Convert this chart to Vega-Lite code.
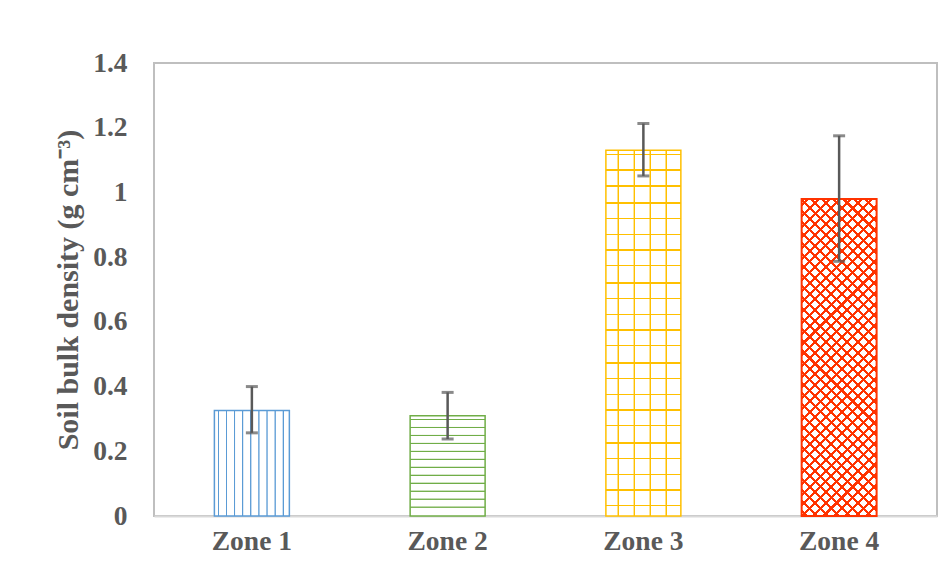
{
"$schema": "https://vega.github.io/schema/vega-lite/v6.json",
"width": 783,
"height": 453,
"autosize": {"type": "none"},
"padding": {"left": 154, "top": 63, "right": 14, "bottom": 63},
"background": "white",
"config": {"view": {"stroke": "#BFBFBF", "strokeWidth": 2}, "font": "Liberation Serif"},
"data": {"values": [
{"zone": "Zone 1", "mean": 0.326, "low": 0.257, "high": 0.400},
{"zone": "Zone 2", "mean": 0.310, "low": 0.238, "high": 0.382},
{"zone": "Zone 3", "mean": 1.130, "low": 1.051, "high": 1.213},
{"zone": "Zone 4", "mean": 0.980, "low": 0.787, "high": 1.175}
]},
"encoding": {
"x": {"field": "zone", "type": "nominal", "title": null,
 "scale": {"domain": ["Zone 1", "Zone 2", "Zone 3", "Zone 4"], "paddingInner": 0.617, "paddingOuter": 0.3085},
 "axis": {"ticks": false, "domain": true, "domainColor": "#D9D9D9", "domainWidth": 2, "labelAngle": 0, "labelPadding": 11,
  "labelFont": "Liberation Serif", "labelFontWeight": "bold", "labelFontSize": 27.5, "labelColor": "#595959", "grid": false}},
"y": {"field": "mean", "type": "quantitative", "title": "Soil bulk density (g cm⁻³)",
 "scale": {"domain": [0, 1.4], "nice": false},
 "axis": {"values": [0, 0.2, 0.4, 0.6, 0.8, 1, 1.2, 1.4], "format": "~g", "grid": false, "ticks": false, "domain": false,
  "labelFont": "Liberation Serif", "labelFontWeight": "bold", "labelFontSize": 27.5, "labelColor": "#595959", "labelPadding": 27,
  "titleFont": "Liberation Serif", "titleFontWeight": "bold", "titleFontSize": 30, "titleColor": "#595959", "titlePadding": 9}}
},
"layer": [
{"transform": [{"filter": "datum.zone === 'Zone 1'"}],
 "mark": {"type": "bar", "stroke": "#5B9BD5", "strokeWidth": 1.5, "fill": {"gradient": "linear", "x1": 0, "y1": 0, "x2": 1, "y2": 0, "stops": [
 {"offset": 0, "color": "#fff"},
 {"offset": 0.042, "color": "#fff"}, {"offset": 0.050, "color": "#5B9BD5"}, {"offset": 0.058, "color": "#5B9BD5"}, {"offset": 0.066, "color": "#fff"},
 {"offset": 0.150, "color": "#fff"}, {"offset": 0.158, "color": "#5B9BD5"}, {"offset": 0.166, "color": "#5B9BD5"}, {"offset": 0.174, "color": "#fff"},
 {"offset": 0.258, "color": "#fff"}, {"offset": 0.266, "color": "#5B9BD5"}, {"offset": 0.274, "color": "#5B9BD5"}, {"offset": 0.282, "color": "#fff"},
 {"offset": 0.366, "color": "#fff"}, {"offset": 0.374, "color": "#5B9BD5"}, {"offset": 0.382, "color": "#5B9BD5"}, {"offset": 0.390, "color": "#fff"},
 {"offset": 0.474, "color": "#fff"}, {"offset": 0.482, "color": "#5B9BD5"}, {"offset": 0.490, "color": "#5B9BD5"}, {"offset": 0.498, "color": "#fff"},
 {"offset": 0.582, "color": "#fff"}, {"offset": 0.590, "color": "#5B9BD5"}, {"offset": 0.598, "color": "#5B9BD5"}, {"offset": 0.606, "color": "#fff"},
 {"offset": 0.690, "color": "#fff"}, {"offset": 0.698, "color": "#5B9BD5"}, {"offset": 0.706, "color": "#5B9BD5"}, {"offset": 0.714, "color": "#fff"},
 {"offset": 0.798, "color": "#fff"}, {"offset": 0.806, "color": "#5B9BD5"}, {"offset": 0.814, "color": "#5B9BD5"}, {"offset": 0.822, "color": "#fff"},
 {"offset": 0.906, "color": "#fff"}, {"offset": 0.914, "color": "#5B9BD5"}, {"offset": 0.922, "color": "#5B9BD5"}, {"offset": 0.930, "color": "#fff"},
 {"offset": 1, "color": "#fff"}]}}},
{"transform": [{"filter": "datum.zone === 'Zone 2'"}],
 "mark": {"type": "bar", "stroke": "#70AD47", "strokeWidth": 1.5, "fill": {"gradient": "linear", "x1": 0, "y1": 0, "x2": 0, "y2": 1, "stops": [
 {"offset": 0, "color": "#fff"},
 {"offset": 0.028, "color": "#fff"}, {"offset": 0.034, "color": "#70AD47"}, {"offset": 0.040, "color": "#70AD47"}, {"offset": 0.046, "color": "#fff"},
 {"offset": 0.1075, "color": "#fff"}, {"offset": 0.1135, "color": "#70AD47"}, {"offset": 0.1195, "color": "#70AD47"}, {"offset": 0.1255, "color": "#fff"},
 {"offset": 0.187, "color": "#fff"}, {"offset": 0.193, "color": "#70AD47"}, {"offset": 0.199, "color": "#70AD47"}, {"offset": 0.205, "color": "#fff"},
 {"offset": 0.2665, "color": "#fff"}, {"offset": 0.2725, "color": "#70AD47"}, {"offset": 0.2785, "color": "#70AD47"}, {"offset": 0.2845, "color": "#fff"},
 {"offset": 0.346, "color": "#fff"}, {"offset": 0.352, "color": "#70AD47"}, {"offset": 0.358, "color": "#70AD47"}, {"offset": 0.364, "color": "#fff"},
 {"offset": 0.4255, "color": "#fff"}, {"offset": 0.4315, "color": "#70AD47"}, {"offset": 0.4375, "color": "#70AD47"}, {"offset": 0.4435, "color": "#fff"},
 {"offset": 0.505, "color": "#fff"}, {"offset": 0.511, "color": "#70AD47"}, {"offset": 0.517, "color": "#70AD47"}, {"offset": 0.523, "color": "#fff"},
 {"offset": 0.5845, "color": "#fff"}, {"offset": 0.5905, "color": "#70AD47"}, {"offset": 0.5965, "color": "#70AD47"}, {"offset": 0.6025, "color": "#fff"},
 {"offset": 0.664, "color": "#fff"}, {"offset": 0.670, "color": "#70AD47"}, {"offset": 0.676, "color": "#70AD47"}, {"offset": 0.682, "color": "#fff"},
 {"offset": 0.7435, "color": "#fff"}, {"offset": 0.7495, "color": "#70AD47"}, {"offset": 0.7555, "color": "#70AD47"}, {"offset": 0.7615, "color": "#fff"},
 {"offset": 0.823, "color": "#fff"}, {"offset": 0.829, "color": "#70AD47"}, {"offset": 0.835, "color": "#70AD47"}, {"offset": 0.841, "color": "#fff"},
 {"offset": 0.9025, "color": "#fff"}, {"offset": 0.9085, "color": "#70AD47"}, {"offset": 0.9145, "color": "#70AD47"}, {"offset": 0.9205, "color": "#fff"},
 {"offset": 1, "color": "#fff"}]}}},
{"transform": [{"filter": "datum.zone === 'Zone 3'"}],
 "mark": {"type": "bar", "strokeWidth": 0, "fill": {"gradient": "linear", "x1": 0, "y1": 0, "x2": 1, "y2": 0, "stops": [
 {"offset": 0, "color": "#fff"},
 {"offset": 0.151, "color": "#fff"}, {"offset": 0.159, "color": "#FFC000"}, {"offset": 0.169, "color": "#FFC000"}, {"offset": 0.177, "color": "#fff"},
 {"offset": 0.365, "color": "#fff"}, {"offset": 0.373, "color": "#FFC000"}, {"offset": 0.383, "color": "#FFC000"}, {"offset": 0.391, "color": "#fff"},
 {"offset": 0.578, "color": "#fff"}, {"offset": 0.586, "color": "#FFC000"}, {"offset": 0.596, "color": "#FFC000"}, {"offset": 0.604, "color": "#fff"},
 {"offset": 0.791, "color": "#fff"}, {"offset": 0.799, "color": "#FFC000"}, {"offset": 0.809, "color": "#FFC000"}, {"offset": 0.817, "color": "#fff"},
 {"offset": 1, "color": "#fff"}]}}},
{"transform": [{"filter": "datum.zone === 'Zone 3'"}],
 "mark": {"type": "bar", "stroke": "#FFC000", "strokeWidth": 1.5, "fill": {"gradient": "linear", "x1": 0, "y1": 0, "x2": 0, "y2": 1, "stops": [
 {"offset": 0, "color": "rgba(255,192,0,0)"},
 {"offset": 0.00898, "color": "rgba(255,192,0,0)"}, {"offset": 0.00898, "color": "#FFC000"}, {"offset": 0.01289, "color": "#FFC000"}, {"offset": 0.01289, "color": "rgba(255,192,0,0)"},
 {"offset": 0.05195, "color": "rgba(255,192,0,0)"}, {"offset": 0.05195, "color": "#FFC000"}, {"offset": 0.05586, "color": "#FFC000"}, {"offset": 0.05586, "color": "rgba(255,192,0,0)"},
 {"offset": 0.09492, "color": "rgba(255,192,0,0)"}, {"offset": 0.09492, "color": "#FFC000"}, {"offset": 0.09883, "color": "#FFC000"}, {"offset": 0.09883, "color": "rgba(255,192,0,0)"},
 {"offset": 0.14180, "color": "rgba(255,192,0,0)"}, {"offset": 0.14180, "color": "#FFC000"}, {"offset": 0.14570, "color": "#FFC000"}, {"offset": 0.14570, "color": "rgba(255,192,0,0)"},
 {"offset": 0.18477, "color": "rgba(255,192,0,0)"}, {"offset": 0.18477, "color": "#FFC000"}, {"offset": 0.18867, "color": "#FFC000"}, {"offset": 0.18867, "color": "rgba(255,192,0,0)"},
 {"offset": 0.22773, "color": "rgba(255,192,0,0)"}, {"offset": 0.22773, "color": "#FFC000"}, {"offset": 0.23164, "color": "#FFC000"}, {"offset": 0.23164, "color": "rgba(255,192,0,0)"},
 {"offset": 0.27070, "color": "rgba(255,192,0,0)"}, {"offset": 0.27070, "color": "#FFC000"}, {"offset": 0.27461, "color": "#FFC000"}, {"offset": 0.27461, "color": "rgba(255,192,0,0)"},
 {"offset": 0.31367, "color": "rgba(255,192,0,0)"}, {"offset": 0.31367, "color": "#FFC000"}, {"offset": 0.31758, "color": "#FFC000"}, {"offset": 0.31758, "color": "rgba(255,192,0,0)"},
 {"offset": 0.36055, "color": "rgba(255,192,0,0)"}, {"offset": 0.36055, "color": "#FFC000"}, {"offset": 0.36445, "color": "#FFC000"}, {"offset": 0.36445, "color": "rgba(255,192,0,0)"},
 {"offset": 0.40352, "color": "rgba(255,192,0,0)"}, {"offset": 0.40352, "color": "#FFC000"}, {"offset": 0.40742, "color": "#FFC000"}, {"offset": 0.40742, "color": "rgba(255,192,0,0)"},
 {"offset": 0.44648, "color": "rgba(255,192,0,0)"}, {"offset": 0.44648, "color": "#FFC000"}, {"offset": 0.45039, "color": "#FFC000"}, {"offset": 0.45039, "color": "rgba(255,192,0,0)"},
 {"offset": 0.48945, "color": "rgba(255,192,0,0)"}, {"offset": 0.48945, "color": "#FFC000"}, {"offset": 0.49336, "color": "#FFC000"}, {"offset": 0.49336, "color": "rgba(255,192,0,0)"},
 {"offset": 0.53242, "color": "rgba(255,192,0,0)"}, {"offset": 0.53242, "color": "#FFC000"}, {"offset": 0.53633, "color": "#FFC000"}, {"offset": 0.53633, "color": "rgba(255,192,0,0)"},
 {"offset": 0.57930, "color": "rgba(255,192,0,0)"}, {"offset": 0.57930, "color": "#FFC000"}, {"offset": 0.58320, "color": "#FFC000"}, {"offset": 0.58320, "color": "rgba(255,192,0,0)"},
 {"offset": 0.62227, "color": "rgba(255,192,0,0)"}, {"offset": 0.62227, "color": "#FFC000"}, {"offset": 0.62617, "color": "#FFC000"}, {"offset": 0.62617, "color": "rgba(255,192,0,0)"},
 {"offset": 0.66523, "color": "rgba(255,192,0,0)"}, {"offset": 0.66523, "color": "#FFC000"}, {"offset": 0.66914, "color": "#FFC000"}, {"offset": 0.66914, "color": "rgba(255,192,0,0)"},
 {"offset": 0.70820, "color": "rgba(255,192,0,0)"}, {"offset": 0.70820, "color": "#FFC000"}, {"offset": 0.71211, "color": "#FFC000"}, {"offset": 0.71211, "color": "rgba(255,192,0,0)"},
 {"offset": 0.75117, "color": "rgba(255,192,0,0)"}, {"offset": 0.75117, "color": "#FFC000"}, {"offset": 0.75508, "color": "#FFC000"}, {"offset": 0.75508, "color": "rgba(255,192,0,0)"},
 {"offset": 0.79805, "color": "rgba(255,192,0,0)"}, {"offset": 0.79805, "color": "#FFC000"}, {"offset": 0.80195, "color": "#FFC000"}, {"offset": 0.80195, "color": "rgba(255,192,0,0)"},
 {"offset": 0.84102, "color": "rgba(255,192,0,0)"}, {"offset": 0.84102, "color": "#FFC000"}, {"offset": 0.84492, "color": "#FFC000"}, {"offset": 0.84492, "color": "rgba(255,192,0,0)"},
 {"offset": 0.88398, "color": "rgba(255,192,0,0)"}, {"offset": 0.88398, "color": "#FFC000"}, {"offset": 0.88789, "color": "#FFC000"}, {"offset": 0.88789, "color": "rgba(255,192,0,0)"},
 {"offset": 0.92695, "color": "rgba(255,192,0,0)"}, {"offset": 0.92695, "color": "#FFC000"}, {"offset": 0.93086, "color": "#FFC000"}, {"offset": 0.93086, "color": "rgba(255,192,0,0)"},
 {"offset": 0.96992, "color": "rgba(255,192,0,0)"}, {"offset": 0.96992, "color": "#FFC000"}, {"offset": 0.97383, "color": "#FFC000"}, {"offset": 0.97383, "color": "rgba(255,192,0,0)"},
 {"offset": 1, "color": "rgba(255,192,0,0)"}]}}},
{"transform": [{"filter": "datum.zone === 'Zone 4'"}],
 "mark": {"type": "bar", "strokeWidth": 0, "fill": {"gradient": "linear", "x1": 0, "y1": 0, "x2": 0.2769, "y2": 1.171, "stops": [
 {"offset": 0, "color": "#fff"},
 {"offset": 0.01289, "color": "#fff"}, {"offset": 0.01289, "color": "#FF3300"}, {"offset": 0.02070, "color": "#FF3300"}, {"offset": 0.02070, "color": "#fff"},
 {"offset": 0.04023, "color": "#fff"}, {"offset": 0.04023, "color": "#FF3300"}, {"offset": 0.04805, "color": "#FF3300"}, {"offset": 0.04805, "color": "#fff"},
 {"offset": 0.06758, "color": "#fff"}, {"offset": 0.06758, "color": "#FF3300"}, {"offset": 0.07539, "color": "#FF3300"}, {"offset": 0.07539, "color": "#fff"},
 {"offset": 0.09492, "color": "#fff"}, {"offset": 0.09492, "color": "#FF3300"}, {"offset": 0.10273, "color": "#FF3300"}, {"offset": 0.10273, "color": "#fff"},
 {"offset": 0.12227, "color": "#fff"}, {"offset": 0.12227, "color": "#FF3300"}, {"offset": 0.13008, "color": "#FF3300"}, {"offset": 0.13008, "color": "#fff"},
 {"offset": 0.14961, "color": "#fff"}, {"offset": 0.14961, "color": "#FF3300"}, {"offset": 0.15742, "color": "#FF3300"}, {"offset": 0.15742, "color": "#fff"},
 {"offset": 0.17695, "color": "#fff"}, {"offset": 0.17695, "color": "#FF3300"}, {"offset": 0.18477, "color": "#FF3300"}, {"offset": 0.18477, "color": "#fff"},
 {"offset": 0.20430, "color": "#fff"}, {"offset": 0.20430, "color": "#FF3300"}, {"offset": 0.21211, "color": "#FF3300"}, {"offset": 0.21211, "color": "#fff"},
 {"offset": 0.23164, "color": "#fff"}, {"offset": 0.23164, "color": "#FF3300"}, {"offset": 0.23945, "color": "#FF3300"}, {"offset": 0.23945, "color": "#fff"},
 {"offset": 0.25898, "color": "#fff"}, {"offset": 0.25898, "color": "#FF3300"}, {"offset": 0.26680, "color": "#FF3300"}, {"offset": 0.26680, "color": "#fff"},
 {"offset": 0.28633, "color": "#fff"}, {"offset": 0.28633, "color": "#FF3300"}, {"offset": 0.29414, "color": "#FF3300"}, {"offset": 0.29414, "color": "#fff"},
 {"offset": 0.31367, "color": "#fff"}, {"offset": 0.31367, "color": "#FF3300"}, {"offset": 0.32148, "color": "#FF3300"}, {"offset": 0.32148, "color": "#fff"},
 {"offset": 0.34102, "color": "#fff"}, {"offset": 0.34102, "color": "#FF3300"}, {"offset": 0.34883, "color": "#FF3300"}, {"offset": 0.34883, "color": "#fff"},
 {"offset": 0.36836, "color": "#fff"}, {"offset": 0.36836, "color": "#FF3300"}, {"offset": 0.37617, "color": "#FF3300"}, {"offset": 0.37617, "color": "#fff"},
 {"offset": 0.39570, "color": "#fff"}, {"offset": 0.39570, "color": "#FF3300"}, {"offset": 0.40352, "color": "#FF3300"}, {"offset": 0.40352, "color": "#fff"},
 {"offset": 0.42305, "color": "#fff"}, {"offset": 0.42305, "color": "#FF3300"}, {"offset": 0.43086, "color": "#FF3300"}, {"offset": 0.43086, "color": "#fff"},
 {"offset": 0.45039, "color": "#fff"}, {"offset": 0.45039, "color": "#FF3300"}, {"offset": 0.45820, "color": "#FF3300"}, {"offset": 0.45820, "color": "#fff"},
 {"offset": 0.47773, "color": "#fff"}, {"offset": 0.47773, "color": "#FF3300"}, {"offset": 0.48555, "color": "#FF3300"}, {"offset": 0.48555, "color": "#fff"},
 {"offset": 0.50508, "color": "#fff"}, {"offset": 0.50508, "color": "#FF3300"}, {"offset": 0.51289, "color": "#FF3300"}, {"offset": 0.51289, "color": "#fff"},
 {"offset": 0.53242, "color": "#fff"}, {"offset": 0.53242, "color": "#FF3300"}, {"offset": 0.54023, "color": "#FF3300"}, {"offset": 0.54023, "color": "#fff"},
 {"offset": 0.55977, "color": "#fff"}, {"offset": 0.55977, "color": "#FF3300"}, {"offset": 0.56758, "color": "#FF3300"}, {"offset": 0.56758, "color": "#fff"},
 {"offset": 0.58711, "color": "#fff"}, {"offset": 0.58711, "color": "#FF3300"}, {"offset": 0.59492, "color": "#FF3300"}, {"offset": 0.59492, "color": "#fff"},
 {"offset": 0.61445, "color": "#fff"}, {"offset": 0.61445, "color": "#FF3300"}, {"offset": 0.62227, "color": "#FF3300"}, {"offset": 0.62227, "color": "#fff"},
 {"offset": 0.64180, "color": "#fff"}, {"offset": 0.64180, "color": "#FF3300"}, {"offset": 0.64961, "color": "#FF3300"}, {"offset": 0.64961, "color": "#fff"},
 {"offset": 0.66914, "color": "#fff"}, {"offset": 0.66914, "color": "#FF3300"}, {"offset": 0.67695, "color": "#FF3300"}, {"offset": 0.67695, "color": "#fff"},
 {"offset": 0.69648, "color": "#fff"}, {"offset": 0.69648, "color": "#FF3300"}, {"offset": 0.70430, "color": "#FF3300"}, {"offset": 0.70430, "color": "#fff"},
 {"offset": 0.72383, "color": "#fff"}, {"offset": 0.72383, "color": "#FF3300"}, {"offset": 0.73164, "color": "#FF3300"}, {"offset": 0.73164, "color": "#fff"},
 {"offset": 0.75117, "color": "#fff"}, {"offset": 0.75117, "color": "#FF3300"}, {"offset": 0.75898, "color": "#FF3300"}, {"offset": 0.75898, "color": "#fff"},
 {"offset": 0.77852, "color": "#fff"}, {"offset": 0.77852, "color": "#FF3300"}, {"offset": 0.78633, "color": "#FF3300"}, {"offset": 0.78633, "color": "#fff"},
 {"offset": 0.80586, "color": "#fff"}, {"offset": 0.80586, "color": "#FF3300"}, {"offset": 0.81367, "color": "#FF3300"}, {"offset": 0.81367, "color": "#fff"},
 {"offset": 0.83320, "color": "#fff"}, {"offset": 0.83320, "color": "#FF3300"}, {"offset": 0.84102, "color": "#FF3300"}, {"offset": 0.84102, "color": "#fff"},
 {"offset": 0.86055, "color": "#fff"}, {"offset": 0.86055, "color": "#FF3300"}, {"offset": 0.86836, "color": "#FF3300"}, {"offset": 0.86836, "color": "#fff"},
 {"offset": 0.88789, "color": "#fff"}, {"offset": 0.88789, "color": "#FF3300"}, {"offset": 0.89570, "color": "#FF3300"}, {"offset": 0.89570, "color": "#fff"},
 {"offset": 0.91523, "color": "#fff"}, {"offset": 0.91523, "color": "#FF3300"}, {"offset": 0.92305, "color": "#FF3300"}, {"offset": 0.92305, "color": "#fff"},
 {"offset": 0.94258, "color": "#fff"}, {"offset": 0.94258, "color": "#FF3300"}, {"offset": 0.95039, "color": "#FF3300"}, {"offset": 0.95039, "color": "#fff"},
 {"offset": 0.96992, "color": "#fff"}, {"offset": 0.96992, "color": "#FF3300"}, {"offset": 0.97773, "color": "#FF3300"}, {"offset": 0.97773, "color": "#fff"},
 {"offset": 1, "color": "#fff"}]}}},
{"transform": [{"filter": "datum.zone === 'Zone 4'"}],
 "mark": {"type": "bar", "stroke": "#FF3300", "strokeWidth": 2, "fill": {"gradient": "linear", "x1": 0, "y1": 1, "x2": 0.2769, "y2": -0.171, "stops": [
 {"offset": 0, "color": "rgba(255,51,0,0)"},
 {"offset": 0.00898, "color": "rgba(255,51,0,0)"}, {"offset": 0.00898, "color": "#FF3300"}, {"offset": 0.01680, "color": "#FF3300"}, {"offset": 0.01680, "color": "rgba(255,51,0,0)"},
 {"offset": 0.03633, "color": "rgba(255,51,0,0)"}, {"offset": 0.03633, "color": "#FF3300"}, {"offset": 0.04414, "color": "#FF3300"}, {"offset": 0.04414, "color": "rgba(255,51,0,0)"},
 {"offset": 0.06367, "color": "rgba(255,51,0,0)"}, {"offset": 0.06367, "color": "#FF3300"}, {"offset": 0.07148, "color": "#FF3300"}, {"offset": 0.07148, "color": "rgba(255,51,0,0)"},
 {"offset": 0.09102, "color": "rgba(255,51,0,0)"}, {"offset": 0.09102, "color": "#FF3300"}, {"offset": 0.09883, "color": "#FF3300"}, {"offset": 0.09883, "color": "rgba(255,51,0,0)"},
 {"offset": 0.11836, "color": "rgba(255,51,0,0)"}, {"offset": 0.11836, "color": "#FF3300"}, {"offset": 0.12617, "color": "#FF3300"}, {"offset": 0.12617, "color": "rgba(255,51,0,0)"},
 {"offset": 0.14570, "color": "rgba(255,51,0,0)"}, {"offset": 0.14570, "color": "#FF3300"}, {"offset": 0.15352, "color": "#FF3300"}, {"offset": 0.15352, "color": "rgba(255,51,0,0)"},
 {"offset": 0.17305, "color": "rgba(255,51,0,0)"}, {"offset": 0.17305, "color": "#FF3300"}, {"offset": 0.18086, "color": "#FF3300"}, {"offset": 0.18086, "color": "rgba(255,51,0,0)"},
 {"offset": 0.20039, "color": "rgba(255,51,0,0)"}, {"offset": 0.20039, "color": "#FF3300"}, {"offset": 0.20820, "color": "#FF3300"}, {"offset": 0.20820, "color": "rgba(255,51,0,0)"},
 {"offset": 0.22773, "color": "rgba(255,51,0,0)"}, {"offset": 0.22773, "color": "#FF3300"}, {"offset": 0.23555, "color": "#FF3300"}, {"offset": 0.23555, "color": "rgba(255,51,0,0)"},
 {"offset": 0.25508, "color": "rgba(255,51,0,0)"}, {"offset": 0.25508, "color": "#FF3300"}, {"offset": 0.26289, "color": "#FF3300"}, {"offset": 0.26289, "color": "rgba(255,51,0,0)"},
 {"offset": 0.28242, "color": "rgba(255,51,0,0)"}, {"offset": 0.28242, "color": "#FF3300"}, {"offset": 0.29023, "color": "#FF3300"}, {"offset": 0.29023, "color": "rgba(255,51,0,0)"},
 {"offset": 0.30977, "color": "rgba(255,51,0,0)"}, {"offset": 0.30977, "color": "#FF3300"}, {"offset": 0.31758, "color": "#FF3300"}, {"offset": 0.31758, "color": "rgba(255,51,0,0)"},
 {"offset": 0.33711, "color": "rgba(255,51,0,0)"}, {"offset": 0.33711, "color": "#FF3300"}, {"offset": 0.34492, "color": "#FF3300"}, {"offset": 0.34492, "color": "rgba(255,51,0,0)"},
 {"offset": 0.36445, "color": "rgba(255,51,0,0)"}, {"offset": 0.36445, "color": "#FF3300"}, {"offset": 0.37227, "color": "#FF3300"}, {"offset": 0.37227, "color": "rgba(255,51,0,0)"},
 {"offset": 0.39180, "color": "rgba(255,51,0,0)"}, {"offset": 0.39180, "color": "#FF3300"}, {"offset": 0.39961, "color": "#FF3300"}, {"offset": 0.39961, "color": "rgba(255,51,0,0)"},
 {"offset": 0.41914, "color": "rgba(255,51,0,0)"}, {"offset": 0.41914, "color": "#FF3300"}, {"offset": 0.42695, "color": "#FF3300"}, {"offset": 0.42695, "color": "rgba(255,51,0,0)"},
 {"offset": 0.44648, "color": "rgba(255,51,0,0)"}, {"offset": 0.44648, "color": "#FF3300"}, {"offset": 0.45430, "color": "#FF3300"}, {"offset": 0.45430, "color": "rgba(255,51,0,0)"},
 {"offset": 0.47383, "color": "rgba(255,51,0,0)"}, {"offset": 0.47383, "color": "#FF3300"}, {"offset": 0.48164, "color": "#FF3300"}, {"offset": 0.48164, "color": "rgba(255,51,0,0)"},
 {"offset": 0.50117, "color": "rgba(255,51,0,0)"}, {"offset": 0.50117, "color": "#FF3300"}, {"offset": 0.50898, "color": "#FF3300"}, {"offset": 0.50898, "color": "rgba(255,51,0,0)"},
 {"offset": 0.52852, "color": "rgba(255,51,0,0)"}, {"offset": 0.52852, "color": "#FF3300"}, {"offset": 0.53633, "color": "#FF3300"}, {"offset": 0.53633, "color": "rgba(255,51,0,0)"},
 {"offset": 0.55586, "color": "rgba(255,51,0,0)"}, {"offset": 0.55586, "color": "#FF3300"}, {"offset": 0.56367, "color": "#FF3300"}, {"offset": 0.56367, "color": "rgba(255,51,0,0)"},
 {"offset": 0.58320, "color": "rgba(255,51,0,0)"}, {"offset": 0.58320, "color": "#FF3300"}, {"offset": 0.59102, "color": "#FF3300"}, {"offset": 0.59102, "color": "rgba(255,51,0,0)"},
 {"offset": 0.61055, "color": "rgba(255,51,0,0)"}, {"offset": 0.61055, "color": "#FF3300"}, {"offset": 0.61836, "color": "#FF3300"}, {"offset": 0.61836, "color": "rgba(255,51,0,0)"},
 {"offset": 0.63789, "color": "rgba(255,51,0,0)"}, {"offset": 0.63789, "color": "#FF3300"}, {"offset": 0.64570, "color": "#FF3300"}, {"offset": 0.64570, "color": "rgba(255,51,0,0)"},
 {"offset": 0.66523, "color": "rgba(255,51,0,0)"}, {"offset": 0.66523, "color": "#FF3300"}, {"offset": 0.67305, "color": "#FF3300"}, {"offset": 0.67305, "color": "rgba(255,51,0,0)"},
 {"offset": 0.69258, "color": "rgba(255,51,0,0)"}, {"offset": 0.69258, "color": "#FF3300"}, {"offset": 0.70039, "color": "#FF3300"}, {"offset": 0.70039, "color": "rgba(255,51,0,0)"},
 {"offset": 0.71992, "color": "rgba(255,51,0,0)"}, {"offset": 0.71992, "color": "#FF3300"}, {"offset": 0.72773, "color": "#FF3300"}, {"offset": 0.72773, "color": "rgba(255,51,0,0)"},
 {"offset": 0.74727, "color": "rgba(255,51,0,0)"}, {"offset": 0.74727, "color": "#FF3300"}, {"offset": 0.75508, "color": "#FF3300"}, {"offset": 0.75508, "color": "rgba(255,51,0,0)"},
 {"offset": 0.77461, "color": "rgba(255,51,0,0)"}, {"offset": 0.77461, "color": "#FF3300"}, {"offset": 0.78242, "color": "#FF3300"}, {"offset": 0.78242, "color": "rgba(255,51,0,0)"},
 {"offset": 0.80195, "color": "rgba(255,51,0,0)"}, {"offset": 0.80195, "color": "#FF3300"}, {"offset": 0.80977, "color": "#FF3300"}, {"offset": 0.80977, "color": "rgba(255,51,0,0)"},
 {"offset": 0.82930, "color": "rgba(255,51,0,0)"}, {"offset": 0.82930, "color": "#FF3300"}, {"offset": 0.83711, "color": "#FF3300"}, {"offset": 0.83711, "color": "rgba(255,51,0,0)"},
 {"offset": 0.85664, "color": "rgba(255,51,0,0)"}, {"offset": 0.85664, "color": "#FF3300"}, {"offset": 0.86445, "color": "#FF3300"}, {"offset": 0.86445, "color": "rgba(255,51,0,0)"},
 {"offset": 0.88398, "color": "rgba(255,51,0,0)"}, {"offset": 0.88398, "color": "#FF3300"}, {"offset": 0.89180, "color": "#FF3300"}, {"offset": 0.89180, "color": "rgba(255,51,0,0)"},
 {"offset": 0.91133, "color": "rgba(255,51,0,0)"}, {"offset": 0.91133, "color": "#FF3300"}, {"offset": 0.91914, "color": "#FF3300"}, {"offset": 0.91914, "color": "rgba(255,51,0,0)"},
 {"offset": 0.93867, "color": "rgba(255,51,0,0)"}, {"offset": 0.93867, "color": "#FF3300"}, {"offset": 0.94648, "color": "#FF3300"}, {"offset": 0.94648, "color": "rgba(255,51,0,0)"},
 {"offset": 0.96602, "color": "rgba(255,51,0,0)"}, {"offset": 0.96602, "color": "#FF3300"}, {"offset": 0.97383, "color": "#FF3300"}, {"offset": 0.97383, "color": "rgba(255,51,0,0)"},
 {"offset": 0.99336, "color": "rgba(255,51,0,0)"}, {"offset": 0.99336, "color": "#FF3300"}, {"offset": 0.99900, "color": "#FF3300"}, {"offset": 0.99900, "color": "rgba(255,51,0,0)"},
 {"offset": 1, "color": "rgba(255,51,0,0)"}]}}},
{"mark": {"type": "rule", "color": "#595959", "strokeWidth": 2.5},
 "encoding": {"y": {"field": "low", "type": "quantitative", "title": "Soil bulk density (g cm⁻³)"}, "y2": {"field": "high"}}},
{"mark": {"type": "tick", "color": "#595959", "size": 12, "thickness": 3},
 "encoding": {"y": {"field": "low", "type": "quantitative", "title": "Soil bulk density (g cm⁻³)"}}},
{"mark": {"type": "tick", "color": "#595959", "size": 12, "thickness": 3},
 "encoding": {"y": {"field": "high", "type": "quantitative", "title": "Soil bulk density (g cm⁻³)"}}}
]
}
